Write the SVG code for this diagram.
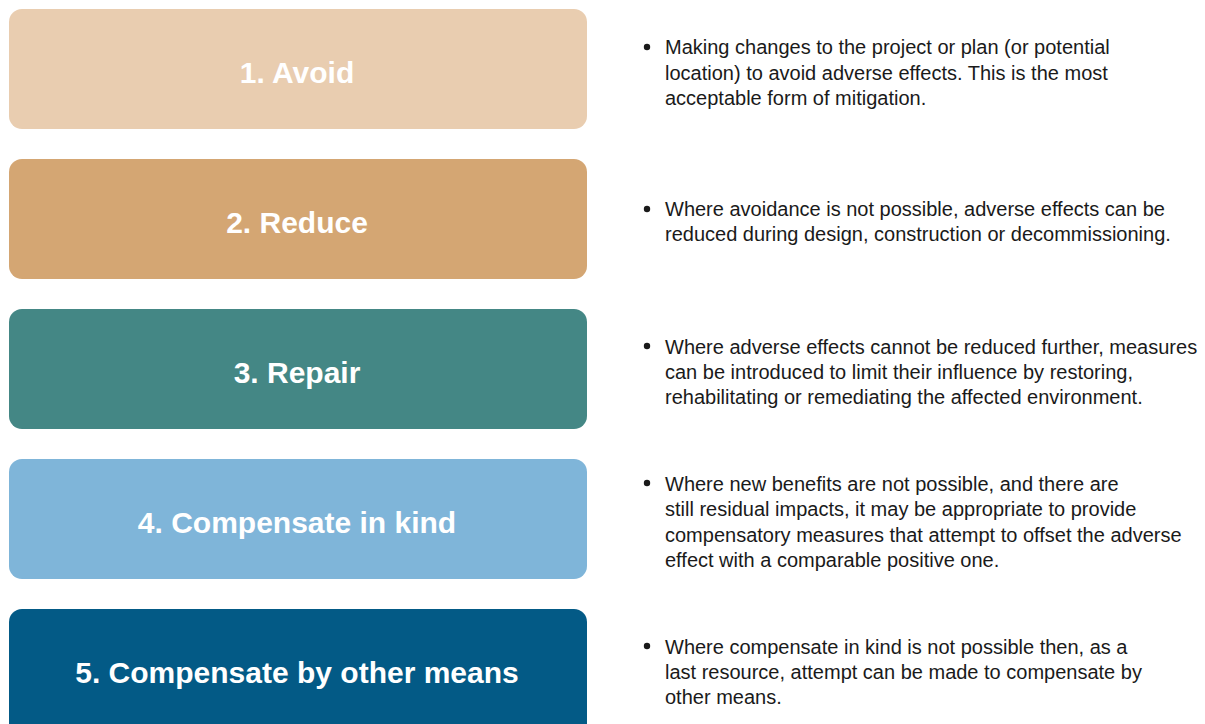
<svg xmlns="http://www.w3.org/2000/svg" width="1205" height="724" viewBox="0 0 1205 724">
<style>
.box{stroke:none}
.title{font-family:"Liberation Sans",Arial,sans-serif;font-weight:bold;font-size:30px;fill:#ffffff;text-anchor:middle}
.desc{font-family:"Liberation Sans",Arial,sans-serif;font-size:20px;fill:#1a1a1a}
.dot{fill:#1a1a1a}
</style>
<rect width="1205" height="724" fill="#ffffff"/>
<g id="node1">
<rect class="box" x="9" y="9" width="578" height="120" rx="13" fill="#E9CDB0"/>
<text class="title" x="297" y="83">1. Avoid</text>
</g>
<g id="node2">
<rect class="box" x="9" y="159" width="578" height="120" rx="13" fill="#D4A673"/>
<text class="title" x="297" y="233">2. Reduce</text>
</g>
<g id="node3">
<rect class="box" x="9" y="309" width="578" height="120" rx="13" fill="#448785"/>
<text class="title" x="297" y="383">3. Repair</text>
</g>
<g id="node4">
<rect class="box" x="9" y="459" width="578" height="120" rx="13" fill="#7FB5D9"/>
<text class="title" x="297" y="533">4. Compensate in kind</text>
</g>
<g id="node5">
<rect class="box" x="9" y="609" width="578" height="130" rx="13" fill="#035A86"/>
<text class="title" x="297" y="683">5. Compensate by other means</text>
</g>
<g id="desc1">
<circle class="dot" cx="647" cy="47" r="3.2"/>
<text class="desc" x="665" y="54">Making changes to the project or plan (or potential</text>
<text class="desc" x="665" y="79.5">location) to avoid adverse effects. This is the most</text>
<text class="desc" x="665" y="105">acceptable form of mitigation.</text>
</g>
<g id="desc2">
<circle class="dot" cx="647" cy="209" r="3.2"/>
<text class="desc" x="665" y="216">Where avoidance is not possible, adverse effects can be</text>
<text class="desc" x="665" y="241">reduced during design, construction or decommissioning.</text>
</g>
<g id="desc3">
<circle class="dot" cx="647" cy="346" r="3.2"/>
<text class="desc" x="665" y="353.5">Where adverse effects cannot be reduced further, measures</text>
<text class="desc" x="665" y="379">can be introduced to limit their influence by restoring,</text>
<text class="desc" x="665" y="404">rehabilitating or remediating the affected environment.</text>
</g>
<g id="desc4">
<circle class="dot" cx="647" cy="483" r="3.2"/>
<text class="desc" x="665" y="490.5">Where new benefits are not possible, and there are</text>
<text class="desc" x="665" y="516">still residual impacts, it may be appropriate to provide</text>
<text class="desc" x="665" y="541.5">compensatory measures that attempt to offset the adverse</text>
<text class="desc" x="665" y="567">effect with a comparable positive one.</text>
</g>
<g id="desc5">
<circle class="dot" cx="647" cy="646" r="3.2"/>
<text class="desc" x="665" y="653.5">Where compensate in kind is not possible then, as a</text>
<text class="desc" x="665" y="679">last resource, attempt can be made to compensate by</text>
<text class="desc" x="665" y="704">other means.</text>
</g>
<g id="connectors"></g>
</svg>
